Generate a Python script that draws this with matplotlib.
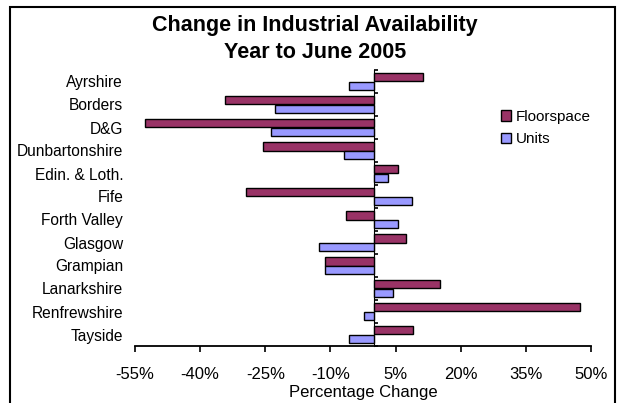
import numpy as np
import matplotlib
matplotlib.use("Agg")
import matplotlib.pyplot as plt
from matplotlib.patches import Rectangle

plt.rcParams["font.family"] = ["Liberation Sans", "DejaVu Sans"]

regions = ["Ayrshire", "Borders", "D&G", "Dunbartonshire", "Edin. & Loth.", "Fife",
           "Forth Valley", "Glasgow", "Grampian", "Lanarkshire", "Renfrewshire", "Tayside"]
floorspace = [11.3, -34.3, -52.8, -25.6, 5.5, -29.4, -6.3, 7.4, -11.3, 15.2, 47.4, 8.9]
units = [-5.8, -22.8, -23.7, -6.8, 3.2, 8.7, 5.5, -12.7, -11.3, 4.3, -2.3, -5.8]
xticks = [-55, -40, -25, -10, 5, 20, 35, 50]

FLOOR_C, UNIT_C = "#993366", "#9999FF"
W, H, DPI = 617, 403, 100

fig = plt.figure(figsize=(W / DPI, H / DPI), dpi=DPI, facecolor="white")
ax = fig.add_axes([135 / W, 1 - 346 / H, (591 - 135) / W, (346 - 70) / H])

y = np.arange(len(regions))
bh = 0.35
bf = ax.barh(y - bh / 2, floorspace, height=bh, color=FLOOR_C, edgecolor="black", lw=1.0, label="Floorspace")
bu = ax.barh(y + bh / 2, units, height=bh, color=UNIT_C, edgecolor="black", lw=1.0, label="Units")

ax.set_xlim(-55, 50)
ax.set_ylim(len(regions) - 0.5, -0.5)
ax.set_xticks(xticks)
ax.set_xticklabels([f"{v}%" for v in xticks], fontsize=12)
ax.tick_params(axis="x", direction="out", length=4, width=1.2, pad=11)
ax.set_yticks(y)
ax.set_yticklabels(regions, fontsize=11.2)
ax.tick_params(axis="y", length=0, pad=8.5)
for s in ["top", "right", "left"]:
    ax.spines[s].set_visible(False)
ax.spines["bottom"].set_linewidth(1.3)
ax.set_xlabel("Percentage Change", fontsize=12, labelpad=2)

# category axis crosses at zero, with boundary ticks
zero_frac = (0 - (-55)) / 105
sec = ax.secondary_yaxis(zero_frac)
sec.set_yticks(np.arange(len(regions) + 1) - 0.5)
sec.set_yticklabels([])
sec.tick_params(direction="out", length=3, width=1.2)
sec.spines["left"].set_linewidth(1.3)

fig.text(315 / W, 1 - 26 / H, "Change in Industrial Availability", ha="center", va="center",
         fontsize=15.5, fontweight="bold")
fig.text(315 / W, 1 - 53 / H, "Year to June 2005", ha="center", va="center",
         fontsize=15.5, fontweight="bold")

fig.legend(handles=[bf, bu], loc="center left", bbox_to_anchor=(501 / W, 1 - 128 / H),
           frameon=False, fontsize=11, handlelength=0.65, handleheight=0.65,
           handletextpad=0.3, labelspacing=0.55, borderpad=0, borderaxespad=0)

fig.patches.append(Rectangle((10 / W, -0.05), (615 - 10) / W, 1.05 - 7 / H,
                             transform=fig.transFigure, fill=False, edgecolor="black", lw=1.5))

fig.savefig("out.png", dpi=DPI, facecolor="white")
